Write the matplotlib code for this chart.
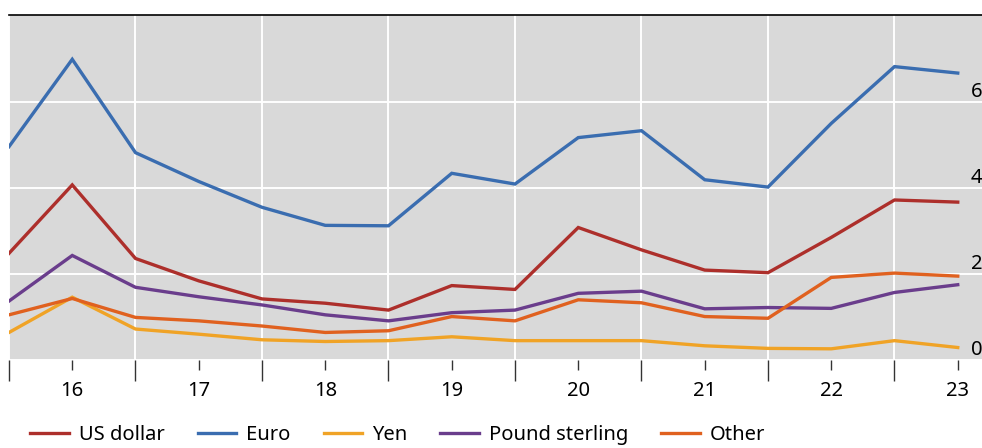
import matplotlib
matplotlib.use("Agg")
import matplotlib.pyplot as plt
import numpy as np

# half-year observations, 2016 H1 .. 2023 H2
periods = np.arange(2016.0, 2024.0, 0.5)

us_dollar = [2.48, 4.07, 2.36, 1.84, 1.42, 1.32, 1.16, 1.73, 1.64, 3.08, 2.56, 2.09, 2.03, 2.85, 3.72, 3.67]
euro = [4.96, 6.99, 4.82, 4.15, 3.55, 3.13, 3.12, 4.34, 4.09, 5.17, 5.33, 4.19, 4.02, 5.50, 6.82, 6.67]
yen = [0.64, 1.46, 0.72, 0.60, 0.47, 0.43, 0.45, 0.54, 0.45, 0.45, 0.45, 0.33, 0.27, 0.26, 0.45, 0.29]
pound = [1.37, 2.43, 1.69, 1.47, 1.28, 1.05, 0.91, 1.10, 1.16, 1.55, 1.60, 1.19, 1.22, 1.20, 1.57, 1.75]
other = [1.05, 1.43, 0.99, 0.91, 0.79, 0.64, 0.68, 1.01, 0.91, 1.40, 1.33, 1.01, 0.97, 1.92, 2.02, 1.95]

series = [("US dollar", us_dollar, "#ad2f2b"),
          ("Euro", euro, "#3a6db0"),
          ("Yen", yen, "#f0a326"),
          ("Pound sterling", pound, "#6a3d8c"),
          ("Other", other, "#e0611f")]

year_labels = ["16", "17", "18", "19", "20", "21", "22", "23"]
y_ticks = [0, 2, 4, 6]

plt.rcParams['font.family'] = ['Noto Sans', 'DejaVu Sans']

fig = plt.figure(figsize=(9.82, 4.48), dpi=100)
ax = fig.add_axes([9 / 982, 1 - 360 / 448, 1 - 9 / 982, 345 / 448])
ax.set_facecolor("#d9d9d9")

for name, vals, col in series:
    ax.plot(periods, vals, color=col, lw=2.4, label=name, solid_joinstyle='miter')

ax.set_xlim(2016.0, 2016.0 + 973 / 126.5)
ax.set_ylim(0, 8.02)

# year boundaries: long ticks + white grid; year middles: short ticks + labels
years = np.arange(2016, 2024)
ax.set_xticks(years)
ax.set_xticklabels([])
ax.set_xticks(years + 0.5, minor=True)
ax.set_xticklabels(year_labels, minor=True)
ax.tick_params(axis='x', which='major', length=15, width=1, color='#333333')
ax.tick_params(axis='x', which='minor', length=7, width=1, color='#333333',
               labelsize=14.5, pad=8)
ax.xaxis.grid(True, which='major', color='white', lw=1.4)

ax.set_yticks(y_ticks)
ax.yaxis.tick_right()
ax.tick_params(axis='y', length=0, labelsize=14.5, pad=-8)
for lab in ax.get_yticklabels():
    lab.set_verticalalignment('bottom')
ax.yaxis.grid(True, color='white', lw=1.4)
ax.set_axisbelow(True)

for s in ['left', 'right', 'bottom']:
    ax.spines[s].set_visible(False)
ax.spines['top'].set_color('black')
ax.spines['top'].set_linewidth(1.2)

# legend sits at the very bottom edge, as in the original
fig.legend(loc='center', bbox_to_anchor=(0.405, 0.03), ncol=5, frameon=False,
           fontsize=14.5, handlelength=1.9, handletextpad=0.5, columnspacing=1.65,
           borderpad=0.1)

fig.savefig("out.png", dpi=100)
